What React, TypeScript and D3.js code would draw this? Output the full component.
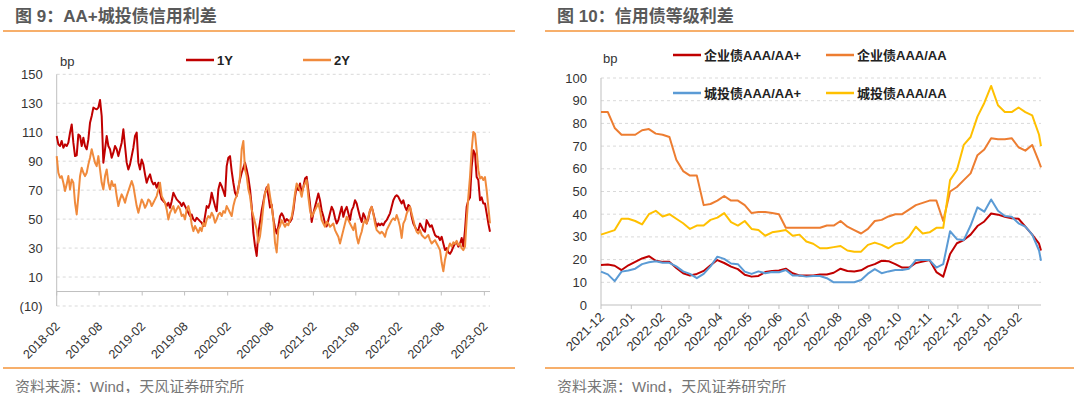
import React, { useEffect, useRef } from 'react'
import * as d3 from 'd3'

const FONT = '"Liberation Sans", "Noto Sans CJK SC", Arial, sans-serif'

// 图 9: AA+城投债信用利差 (bp), evenly sampled between leftStart and leftEnd
const leftStart = new Date(2018, 1, 1)
const leftEnd = new Date(2023, 1, 25)
const leftYTicks = [-10, 10, 30, 50, 70, 90, 110, 130, 150]
const leftSeriesNames = ['1Y', '2Y']
const spread1Y = [
  107.4, 101.6, 100.5, 104, 99.3, 101.6, 100.5, 102.8, 109.7, 115.4,
  102.8, 93.5, 94, 108.5, 107.4, 100.5, 106.2, 100.5, 98.2, 105,
  116.6, 121.2, 127, 126.3, 125.8, 127, 132.3, 121.2, 89, 98.2,
  107.4, 100.5, 98.2, 92.4, 95.9, 100.5, 98.2, 93.5, 98.2, 102.8,
  112, 100.5, 89, 84.3, 87.8, 93.5, 99.3, 107.4, 109.7, 89,
  84.3, 91.2, 87.8, 80.9, 75.1, 78.6, 80.9, 76.3, 74, 75.1,
  71.7, 75.1, 68.2, 63.6, 62.4, 61.3, 59, 61.3, 57.8, 62.4,
  68.2, 65.9, 63.6, 62.4, 61.3, 59, 61.3, 59, 56.7, 54.4,
  52.1, 53.2, 49.8, 48.6, 50.9, 49.8, 48.6, 47.5, 45.2, 52.1,
  59, 57.8, 61.3, 68.2, 63.6, 59, 55.5, 70.5, 75.1, 72.8,
  69.4, 65.9, 86.6, 92.4, 93.5, 83.2, 75.1, 68.2, 65.9, 71.7,
  77.4, 82, 85.5, 89, 84.3, 78.6, 70.5, 59, 40.6, 31.3,
  24.6, 40.6, 48, 56, 62, 68, 72, 66, 58, 60,
  50, 44, 40, 45, 52, 54, 52, 48, 50, 49,
  48, 50, 56, 65.4, 72.3, 70, 74.6, 68, 72, 78,
  79.2, 70, 60.8, 48, 54, 58.5, 63, 67.7, 63, 56,
  52, 47, 45, 49.3, 54, 58.5, 56, 51, 47, 49.3,
  54, 58.5, 51.6, 56, 58.5, 54, 49.3, 56, 58.5, 63,
  60.8, 56, 51.5, 48, 54, 51.5, 47, 50.5, 56, 58.5,
  54, 49.3, 44.7, 47, 45.8, 47, 45.8, 48, 49.3, 51.6,
  54, 58.5, 63, 65.4, 66.5, 65.4, 63, 60.8, 63, 58.5,
  56, 59.7, 58.5, 51.6, 47, 44.7, 42.4, 42.4, 47, 44.7,
  42.4, 41.3, 49.3, 47, 44.7, 45.8, 42.4, 39, 37.8, 37.8,
  35.5, 37.8, 33.2, 28.6, 30, 27, 26, 28, 31, 33,
  34, 31, 33, 37, 31, 42.4, 58.5, 63, 65, 86,
  97.6, 95, 79, 77, 63, 65, 60.8, 60.8, 54, 47,
  41.3
]
const spread2Y = [
  93.5, 82, 78.6, 79.7, 75.1, 69.4, 74, 79.7, 70.5, 77.4,
  75.1, 61.3, 53.2, 65.9, 79.7, 85.5, 82, 79.7, 82, 87.8,
  92.4, 98.2, 93.5, 88.9, 86.6, 93.5, 84.3, 75.1, 70.5, 79.7,
  84.3, 75.1, 70.5, 76.3, 72.8, 74, 65.9, 59, 63.6, 67.1,
  64.7, 61.3, 65.9, 69.4, 72.8, 76.3, 72.8, 65.9, 59, 54.4,
  59, 63.6, 61.3, 57.8, 60.1, 63.6, 62.4, 59, 61.3, 63.6,
  65.9, 70.5, 75.1, 65.9, 63.6, 61.3, 56.7, 49.8, 54.4, 56.7,
  59, 54.4, 56.7, 59, 56.7, 52.1, 53.2, 49.8, 56.7, 59,
  54.4, 46.3, 41.7, 45.2, 42.9, 40.6, 44, 41.7, 47.5, 45.2,
  49.8, 52.1, 50.9, 54.4, 52.1, 47.5, 49.8, 53.2, 54.4, 52.1,
  55.5, 54.4, 59, 56.7, 54.4, 52.1, 59, 63.6, 65.9, 70.5,
  79.7, 98.2, 104, 84.3, 79.7, 70.5, 65.9, 56.7, 52.1, 47.5,
  42.9, 33.6, 38.2, 47.5, 59, 68.2, 70.5, 74, 65.9, 59,
  49.8, 33.6, 27, 42.9, 45.2, 49.3, 47, 44.7, 47, 45.8,
  49.3, 51.6, 58.5, 67.7, 74.6, 72.3, 70, 65.4, 72.3, 74.6,
  76.9, 65.4, 56.2, 51.6, 53.9, 56.2, 58.5, 60.8, 56.2, 49.3,
  47, 44.7, 48.2, 47, 44.7, 45.8, 47, 42.4, 40.1, 37.8,
  33.2, 37.8, 42.4, 47, 51.6, 49.3, 47, 44.7, 42.4, 47,
  37.8, 33.2, 37.8, 41.3, 47, 49.3, 47, 51.6, 56.2, 58.5,
  53.9, 47, 42.4, 41.3, 40.1, 41.3, 40.1, 37.8, 42.4, 44.7,
  47, 49.3, 50.5, 49.3, 52.8, 49.3, 44.7, 37, 47, 49.3,
  53.9, 56.2, 58.5, 53.9, 49.3, 44.7, 41.3, 40.1, 42.4, 39,
  37.8, 36.7, 37.8, 39, 35.5, 33.2, 34.4, 35.5, 33.2, 31,
  28.6, 20, 14, 22, 27, 30, 33.2, 31, 34, 33,
  35, 32, 33, 30, 28.6, 31, 49.3, 65.4, 79.2, 97.6,
  110.2, 109, 97.6, 83.8, 78, 79.2, 77, 79, 70, 58.5,
  47
]

// 图 10: 信用债等级利差 (bp), weekly from 2021-12-01, last point 2023-02-24
const rightStart = new Date(2021, 11, 1)
const rightEnd = new Date(2023, 1, 24)
const rightYTicks = [0, 10, 20, 30, 40, 50, 60, 70, 80, 90, 100]
const rightSeriesNames = ['企业债AAA/AA+', '企业债AAA/AA', '城投债AAA/AA+', '城投债AAA/AA']
const corpAAAvsAAplus = [
  17.6, 17.8, 17.3, 15.4, 17.5, 19, 20.5, 21.5, 19.5, 19,
  19, 16.3, 14, 13, 13.7, 15, 17.5, 19.8, 18.5, 16.9,
  15.8, 13.3, 12.5, 12.8, 14.5, 15, 15.2, 16, 14, 13,
  13, 13, 13.4, 13.4, 14.2, 16, 15, 14.8, 15.3, 17,
  18, 19.5, 19.3, 18, 16.5, 16.5, 18.5, 19.1, 19.8, 14.5,
  12.5, 22.5, 27.2, 28.6, 31, 34.8, 36.8, 40.3, 39.8, 38.9,
  38.2, 38, 34.5, 31, 27, 24
]
const corpAAAvsAA = [
  85, 85, 78, 75, 75, 75, 77, 77.5, 75.5, 75,
  74, 64, 59, 57, 57, 44, 44.5, 46, 48, 46,
  46, 44, 40.5, 41, 41, 40.5, 40, 34, 34, 34,
  34, 34, 34, 35, 35, 37, 34.5, 33, 31.5, 33.5,
  37, 37.5, 39, 40, 40, 42, 44, 45, 46, 46,
  37, 50, 52, 55, 58, 66, 68.5, 73.5, 73, 73,
  73.5, 69.5, 68, 70.5, 63, 60.6
]
const lgfvAAAvsAAplus = [
  14.7, 13.5, 10.5, 14.7, 15.2, 16, 18, 18.8, 19.3, 18.6,
  18.6, 17, 14.8, 13.7, 11.8, 13.7, 17, 21.3, 20.3, 18.3,
  18, 14.7, 13.7, 14.8, 14, 14.5, 14.4, 15.4, 13, 13,
  12.5, 12.8, 12.8, 11.8, 10, 10, 10, 10, 11, 13.8,
  15.8, 14, 14.8, 15.4, 15.4, 16, 19.8, 19.8, 19.8, 16.5,
  18, 32.5, 29, 28.6, 35, 43, 41.1, 46.5, 41.5, 39.2,
  38.9, 36, 34.5, 31, 24, 19.5
]
const lgfvAAAvsAA = [
  31, 32, 33, 38, 38, 37, 35.5, 40, 41.5, 39,
  40, 38, 36, 33.5, 35, 35, 37.5, 38.5, 40.5, 36.5,
  35, 37, 33.5, 33, 30.5, 32, 32.5, 33, 30.5, 31,
  28, 27, 25, 25, 25.5, 26, 24, 23.5, 23.5, 26.5,
  27.5, 26.5, 25, 27, 27.5, 30, 34.5, 31.5, 32, 34,
  34, 55, 59.5, 70.5, 74, 83, 89, 96.5, 88, 85,
  85, 87, 85, 83.5, 75, 70
]

const RULE = '#F5943A'
const GRID = '#d9d9d9'
const AXIS = '#bfbfbf'
const LABEL = '#333'

const drawFrame = (svg, x0, x1, title) => {
  svg.append('text').attr('x', x0 + 12).attr('y', 16).attr('dominant-baseline', 'central')
    .attr('font-size', 17).attr('font-weight', 'bold').attr('fill', '#595959').text(title)
  svg.append('line').attr('x1', x0).attr('x2', x1).attr('y1', 31).attr('y2', 31)
    .attr('stroke', RULE).attr('stroke-width', 1.5)
  svg.append('line').attr('x1', x0).attr('x2', x1).attr('y1', 368).attr('y2', 368)
    .attr('stroke', RULE).attr('stroke-width', 1.5)
  svg.append('text').attr('x', x0 + 12).attr('y', 386).attr('dominant-baseline', 'central')
    .attr('font-size', 15).attr('fill', '#767676').text('资料来源：Wind，天风证券研究所')
}

const drawAxes = (svg, x, y, yTicks, xTicks, fmtY, labelY, xLabelFont) => {
  const [xa, xb] = x.range()
  const [yb, ya] = y.range()
  svg.append('g').selectAll('line').data(yTicks.filter(t => t !== 0)).join('line')
    .attr('x1', xa).attr('x2', xb).attr('y1', d => y(d)).attr('y2', d => y(d))
    .attr('stroke', GRID).attr('stroke-dasharray', '3,3')
  svg.append('g').selectAll('text').data(yTicks).join('text')
    .attr('x', xa - 14).attr('y', d => y(d)).attr('text-anchor', 'end').attr('dominant-baseline', 'central')
    .attr('font-size', 13).attr('fill', LABEL).text(fmtY)
  svg.append('line').attr('x1', xa).attr('x2', xa).attr('y1', ya).attr('y2', yb).attr('stroke', AXIS)
  svg.append('line').attr('x1', xa).attr('x2', xb).attr('y1', y(0)).attr('y2', y(0)).attr('stroke', AXIS)
  svg.append('g').selectAll('line').data(xTicks).join('line')
    .attr('x1', d => x(d)).attr('x2', d => x(d)).attr('y1', y(0)).attr('y2', y(0) + 4).attr('stroke', AXIS)
  svg.append('g').selectAll('text').data(xTicks).join('text')
    .attr('transform', d => `translate(${x(d) + 4},${labelY}) rotate(-45)`)
    .attr('text-anchor', 'end').attr('font-size', xLabelFont).attr('fill', LABEL)
    .text(d3.timeFormat('%Y-%m'))
}

const drawSeries = (svg, x, y, dates, values, color) => {
  const line = d3.line().x((_, i) => x(dates[i])).y(d => y(d))
  svg.append('path').attr('d', line(values)).attr('fill', 'none')
    .attr('stroke', color).attr('stroke-width', 2).attr('stroke-linejoin', 'round')
}

const legendItem = (svg, lx, ly, color, label) => {
  svg.append('line').attr('x1', lx).attr('x2', lx + 28).attr('y1', ly).attr('y2', ly)
    .attr('stroke', color).attr('stroke-width', 2.5)
  svg.append('text').attr('x', lx + 31).attr('y', ly).attr('dominant-baseline', 'central')
    .attr('font-size', 13).attr('font-weight', 'bold').attr('fill', '#222').text(label)
}

export default function App() {
  const ref = useRef(null)

  useEffect(() => {
    const svg = d3.select(ref.current)
    svg.selectAll('*').remove()

    // left panel
    drawFrame(svg, 3, 515, '图 9：AA+城投债信用利差')
    const xL = d3.scaleTime().domain([leftStart, leftEnd]).range([56.7, 490])
    const yL = d3.scaleLinear().domain([-10, 150]).range([306, 74.3])
    const leftTicks = d3.timeMonth.range(new Date(2018, 1, 1), new Date(2023, 2, 1), 6)
    drawAxes(svg, xL, yL, leftYTicks, leftTicks, d => (d < 0 ? `(${-d})` : `${d}`), 327, 12.5)
    const span = +leftEnd - +leftStart
    const leftDates = spread1Y.map((_, i) => new Date(+leftStart + (span * i) / (spread1Y.length - 1)))
    drawSeries(svg, xL, yL, leftDates, spread1Y, '#C00000')
    drawSeries(svg, xL, yL, leftDates, spread2Y, '#F08A3C')
    svg.append('text').attr('x', 60).attr('y', 61).attr('dominant-baseline', 'central')
      .attr('font-size', 13).attr('fill', LABEL).text('bp')
    legendItem(svg, 186, 60, '#C00000', leftSeriesNames[0])
    legendItem(svg, 303, 60, '#F08A3C', leftSeriesNames[1])

    // right panel
    drawFrame(svg, 545, 1074, '图 10：信用债等级利差')
    const xR = d3.scaleTime().domain([rightStart, rightEnd]).range([601, 1041])
    const yR = d3.scaleLinear().domain([0, 100]).range([305, 78])
    const rightTicks = d3.timeMonth.range(new Date(2021, 11, 1), new Date(2023, 2, 1))
    drawAxes(svg, xR, yR, rightYTicks, rightTicks, d => `${d}`, 318, 13)
    const rightDates = [...d3.timeDay.range(rightStart, new Date(2023, 1, 23), 7), rightEnd]
    const rightSeries = [corpAAAvsAAplus, corpAAAvsAA, lgfvAAAvsAAplus, lgfvAAAvsAA]
    const rightColors = ['#C00000', '#ED7D31', '#5B9BD5', '#FFC000']
    rightSeries.forEach((s, k) => drawSeries(svg, xR, yR, rightDates, s, rightColors[k]))
    svg.append('text').attr('x', 603).attr('y', 58).attr('dominant-baseline', 'central')
      .attr('font-size', 13).attr('fill', LABEL).text('bp')
    legendItem(svg, 673, 55, rightColors[0], rightSeriesNames[0])
    legendItem(svg, 826, 55, rightColors[1], rightSeriesNames[1])
    legendItem(svg, 673, 93, rightColors[2], rightSeriesNames[2])
    legendItem(svg, 826, 93, rightColors[3], rightSeriesNames[3])
  }, [])

  return (
    <svg ref={ref} width={1080} height={393} viewBox="0 0 1080 393"
      style={{ position: 'absolute', left: 0, top: 0, background: '#fff', fontFamily: FONT }} />
  )
}
